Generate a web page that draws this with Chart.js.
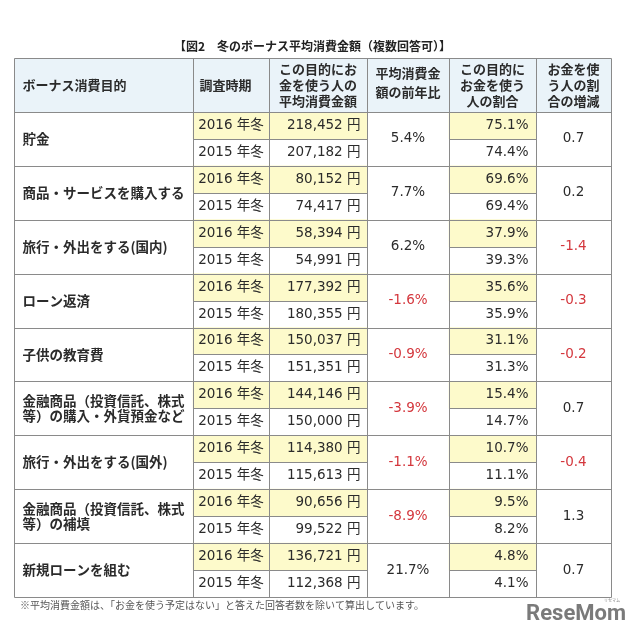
<!DOCTYPE html>
<html lang="ja">
<head>
<meta charset="utf-8">
<title>冬のボーナス平均消費金額</title>
<script src="https://cdn.jsdelivr.net/npm/chart.js@4.4.1/dist/chart.umd.min.js"></script>
<style>
  html, body { margin: 0; padding: 0; background: #fff; }
  canvas { display: block; }
</style>
</head>
<body>
<canvas id="bonusTable" width="640" height="637"></canvas>
<script>
// Table data
const purposes = [
    '貯金',
    '商品・サービスを購入する',
    '旅行・外出をする(国内)',
    'ローン返済',
    '子供の教育費',
    '金融商品（投資信託、株式\n等）の購入・外貨預金など',
    '旅行・外出をする(国外)',
    '金融商品（投資信託、株式\n等）の補填',
    '新規ローンを組む'
];
const surveyYears = ['2016 年冬', '2015 年冬'];
const amount2016 = [218452, 80152, 58394, 177392, 150037, 144146, 114380, 90656, 136721];
const amount2015 = [207182, 74417, 54991, 180355, 151351, 150000, 115613, 99522, 112368];
const amountChange = [5.4, 7.7, 6.2, -1.6, -0.9, -3.9, -1.1, -8.9, 21.7];
const share2016 = [75.1, 69.6, 37.9, 35.6, 31.1, 15.4, 10.7, 9.5, 4.8];
const share2015 = [74.4, 69.4, 39.3, 35.9, 31.3, 14.7, 11.1, 8.2, 4.1];
const shareChange = [0.7, 0.2, -1.4, -0.3, -0.2, 0.7, -0.4, 1.3, 0.7];
const headers = [
    'ボーナス消費目的',
    '調査時期',
    'この目的にお\n金を使う人の\n平均消費金額',
    '平均消費金\n額の前年比',
    'この目的に\nお金を使う\n人の割合',
    'お金を使\nう人の割\n合の増減'
];
const titleText = '【図2　冬のボーナス平均消費金額（複数回答可）】';
const noteText = '※平均消費金額は、「お金を使う予定はない」と答えた回答者数を除いて算出しています。';

// Column edges in table units (x scale runs 0..597)
const colEdges = [0, 179, 255, 353, 435, 522, 597];

const FONT = "'Noto Sans CJK JP', 'Noto Sans', sans-serif";
const NUM_FONT = "'DejaVu Sans', 'Noto Sans CJK JP', sans-serif";
const TEXT_COLOR = '#2b2b2b';
const RED = '#d4373d';

// Two header slots, then a 2016 and a 2015 row for each purpose
const rowKeys = ['header', 'header-2'];
purposes.forEach((p, i) => rowKeys.push(i + '-2016', i + '-2015'));

const headerBg = rowKeys.map((k, r) => r < 2 ? [colEdges[0], colEdges[6]] : null);
const yellowAmount = rowKeys.map((k, r) => (r >= 2 && r % 2 === 0) ? [colEdges[1], colEdges[3]] : null);
const yellowShare = rowKeys.map((k, r) => (r >= 2 && r % 2 === 0) ? [colEdges[4], colEdges[5]] : null);

function cellDataset(label, data, color) {
    return {
        label: label,
        data: data,
        backgroundColor: color,
        borderWidth: 0,
        grouped: false,
        barPercentage: 1,
        categoryPercentage: 1
    };
}

function drawText(ctx, text, x, y, align, font, color, lineHeight) {
    const lines = String(text).split('\n');
    ctx.font = font;
    ctx.fillStyle = color;
    ctx.textAlign = align;
    ctx.textBaseline = 'middle';
    const start = y - (lines.length - 1) * lineHeight / 2;
    lines.forEach((line, i) => ctx.fillText(line, x, start + i * lineHeight));
}

const formatYen = v => v.toLocaleString('en-US') + ' 円';
const formatPct = v => v.toFixed(1) + '%';

// Borders and cell text, placed with the chart's own scales
const tablePlugin = {
    id: 'tablePlugin',
    afterDatasetsDraw(chart) {
        const { ctx, chartArea, scales: { x, y } } = chart;
        const rowH = y.getPixelForValue(1) - y.getPixelForValue(0);
        const rowTop = r => Math.round(y.getPixelForValue(r) - rowH / 2) + 0.5;
        const rowMid = r => y.getPixelForValue(r);
        const colX = c => Math.round(x.getPixelForValue(colEdges[c])) + 0.5;
        const colMid = c => (x.getPixelForValue(colEdges[c]) + x.getPixelForValue(colEdges[c + 1])) / 2;

        ctx.save();
        ctx.strokeStyle = '#8a8a8a';
        ctx.lineWidth = 1;
        const line = (x0, y0, x1, y1) => {
            ctx.beginPath();
            ctx.moveTo(x0, y0);
            ctx.lineTo(x1, y1);
            ctx.stroke();
        };

        // Horizontal rules
        line(colX(0), rowTop(0), colX(6), rowTop(0));
        for (let r = 2; r <= rowKeys.length; r += 2) {
            line(colX(0), rowTop(r), colX(6), rowTop(r));
        }
        for (let r = 3; r < rowKeys.length; r += 2) {
            line(colX(1), rowTop(r), colX(3), rowTop(r));
            line(colX(4), rowTop(r), colX(5), rowTop(r));
        }
        // Vertical rules
        colEdges.forEach((e, c) => line(colX(c), rowTop(0), colX(c), rowTop(rowKeys.length)));

        // Header
        const headMid = (rowMid(0) + rowMid(1)) / 2;
        const headFont = 'bold 13px ' + FONT;
        drawText(ctx, headers[0], colX(0) + 8, headMid, 'left', headFont, TEXT_COLOR, 16);
        drawText(ctx, headers[1], colX(1) + 6, headMid, 'left', headFont, TEXT_COLOR, 16);
        drawText(ctx, headers[2], colMid(2), headMid, 'center', headFont, TEXT_COLOR, 16);
        drawText(ctx, headers[3], colMid(3), headMid - 2, 'center', headFont, TEXT_COLOR, 19);
        drawText(ctx, headers[4], colMid(4), headMid, 'center', headFont, TEXT_COLOR, 16);
        drawText(ctx, headers[5], colMid(5), headMid, 'center', headFont, TEXT_COLOR, 16);

        // Body
        const bodyFont = '13.5px ' + NUM_FONT;
        const labelFont = 'bold 13.5px ' + FONT;
        purposes.forEach((p, i) => {
            const r16 = 2 + i * 2;
            const r15 = r16 + 1;
            const groupMid = (rowMid(r16) + rowMid(r15)) / 2;

            drawText(ctx, p, colX(0) + 8, groupMid, 'left', labelFont, TEXT_COLOR, 15);

            drawText(ctx, surveyYears[0], colMid(1), rowMid(r16), 'center', bodyFont, TEXT_COLOR, 16);
            drawText(ctx, surveyYears[1], colMid(1), rowMid(r15), 'center', bodyFont, TEXT_COLOR, 16);

            drawText(ctx, formatYen(amount2016[i]), colX(3) - 7, rowMid(r16), 'right', bodyFont, TEXT_COLOR, 16);
            drawText(ctx, formatYen(amount2015[i]), colX(3) - 7, rowMid(r15), 'right', bodyFont, TEXT_COLOR, 16);

            drawText(ctx, formatPct(amountChange[i]), colMid(3), groupMid, 'center', bodyFont,
                amountChange[i] < 0 ? RED : TEXT_COLOR, 16);

            drawText(ctx, formatPct(share2016[i]), colX(5) - 8, rowMid(r16), 'right', bodyFont, TEXT_COLOR, 16);
            drawText(ctx, formatPct(share2015[i]), colX(5) - 8, rowMid(r15), 'right', bodyFont, TEXT_COLOR, 16);

            drawText(ctx, shareChange[i].toFixed(1), colMid(5), groupMid, 'center', bodyFont,
                shareChange[i] < 0 ? RED : TEXT_COLOR, 16);
        });

        // Title, footnote and logo
        drawText(ctx, titleText, (chartArea.left + chartArea.right) / 2, chartArea.top - 12,
            'center', 'bold 12px ' + FONT, '#222', 14);
        drawText(ctx, noteText, chartArea.left + 6, chartArea.bottom + 8,
            'left', '10px ' + FONT, '#555', 12);
        drawText(ctx, 'ReseMom', 626, chartArea.bottom + 17, 'right', 'bold 22px Roboto, sans-serif', '#7a7a7a', 22);
        drawText(ctx, 'リセマム', 620, chartArea.bottom + 3, 'right', '4px ' + FONT, '#888', 5);
        ctx.restore();
    }
};

document.addEventListener('DOMContentLoaded', function() {
    const canvas = document.getElementById('bonusTable');
    new Chart(canvas, {
        type: 'bar',
        data: {
            labels: rowKeys,
            datasets: [
                cellDataset('header', headerBg, '#eaf3f9'),
                cellDataset('2016 amount', yellowAmount, '#fdfacb'),
                cellDataset('2016 share', yellowShare, '#fdfacb')
            ]
        },
        options: {
            indexAxis: 'y',
            responsive: false,
            animation: false,
            devicePixelRatio: 1,
            layout: {
                padding: { left: 14, top: 58, right: 29, bottom: 40 }
            },
            plugins: {
                legend: { display: false },
                tooltip: { enabled: false }
            },
            scales: {
                x: { type: 'linear', min: colEdges[0], max: colEdges[6], display: false },
                y: { type: 'category', display: false, offset: true }
            }
        },
        plugins: [tablePlugin]
    });
});
</script>
</body>
</html>
